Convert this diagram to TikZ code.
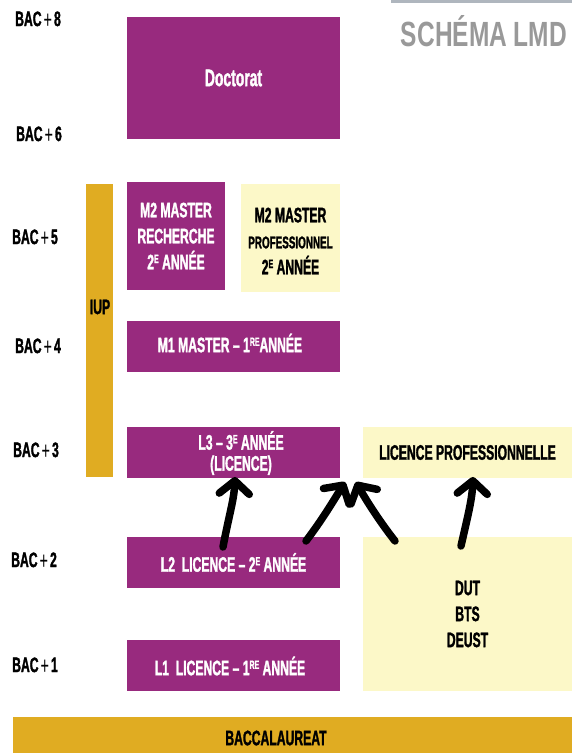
\documentclass[tikz,border=0pt]{standalone}
\usepackage{fontspec}
\setmainfont{Liberation Sans}[FakeStretch=0.58, BoldFeatures={FakeBold=1.4}]
\newfontfamily\titlefont{Liberation Sans}[FakeStretch=0.7]
\usetikzlibrary{arrows.meta,calc}
\definecolor{lmdpurple}{RGB}{152,42,126}
\definecolor{lmdcream}{RGB}{252,248,200}
\definecolor{lmdgold}{RGB}{224,172,34}
\definecolor{lmdgray}{RGB}{153,153,153}
\definecolor{lmdline}{RGB}{175,182,190}
\newcommand\expo[1]{\raisebox{0.3em}{\fontsize{12}{12}\selectfont #1}}
\newcommand\bacplus[1]{BAC\hspace{2pt}\raisebox{-2.5pt}{\fontsize{25}{26}\selectfont\mdseries +}\hspace{2pt}#1}
\begin{document}
\begin{tikzpicture}[x=1pt,y=-1pt,
  every node/.style={font=\fontsize{21}{26}\selectfont\bfseries, inner sep=0pt, align=center},
  pbox/.style={fill=lmdpurple, text=white},
  cbox/.style={fill=lmdcream, text=black},
  gbox/.style={fill=lmdgold, text=black},
  lvl/.style={anchor=west, text=black},
  harrow/.style={line width=7.5pt, line cap=round, -{Straight Barb[length=13pt,width=30pt,round]}}]
\useasboundingbox (0,0) rectangle (572,753);
% title
\fill[lmdline] (391,0) rectangle (572,3);
\node[text=lmdgray, font=\titlefont\fontsize{35}{35}\selectfont\bfseries] (title) at (484,31) {SCHÉMA LMD};
% level labels
\node[lvl] (b8) at (15,20) {\bacplus{8}};
\node[lvl] (b6) at (16,135) {\bacplus{6}};
\node[lvl] (b5) at (12,238) {\bacplus{5}};
\node[lvl] (b4) at (15,347) {\bacplus{4}};
\node[lvl] (b3) at (13,451) {\bacplus{3}};
\node[lvl] (b2) at (11,561) {\bacplus{2}};
\node[lvl] (b1) at (12,666) {\bacplus{1}};
% boxes
\node[pbox, minimum width=213, minimum height=122, font=\fontsize{24}{26}\selectfont\bfseries] (doc) at (233.5,78) {Doctorat};
\node[pbox, minimum width=98, minimum height=108] (m2r) at (176,236) {M2 MASTER\\RECHERCHE\\2\expo{E} ANNÉE};
\node[cbox, minimum width=99, minimum height=108] (m2p) at (290.5,238) {};
\node[text=black] (m2plabel) at (290.5,241) {M2 MASTER\\{\fontsize{17}{26}\selectfont PROFESSIONNEL}\\2\expo{E} ANNÉE};
\node[gbox, minimum width=27, minimum height=293] (iup) at (99.5,330.5) {};
\node[text=black] (iuplabel) at (100,307) {IUP};
\node[pbox, minimum width=213, minimum height=51] (m1) at (233.5,346.5) {};
\node[text=white] (m1label) at (230,343) {M1 MASTER – 1\expo{RE}ANNÉE};
\node[pbox, minimum width=213, minimum height=51] (l3) at (233.5,452.5) {};
\node[text=white, font=\fontsize{21}{21}\selectfont\bfseries] (l3label) at (241,453) {L3 – 3\expo{E}\ ANNÉE\\(LICENCE)};
\node[cbox, minimum width=209, minimum height=51] (lp) at (467.5,452.5) {LICENCE PROFESSIONNELLE};
\node[pbox, minimum width=213, minimum height=51] (l2) at (233.5,562.5) {L2\ \ LICENCE – 2\expo{E} ANNÉE};
\node[cbox, minimum width=209, minimum height=154] (dut) at (467.5,614) {DUT\\BTS\\DEUST};
\node[pbox, minimum width=213, minimum height=51] (l1) at (233.5,665.5) {};
\node[text=white] (l1label) at (230,666) {L1\ \ LICENCE – 1\expo{RE} ANNÉE};
\node[gbox, minimum width=559, minimum height=36] (bac) at (292.5,735) {};
\node[text=black] (baclabel) at (276,738) {BACCALAUREAT};
% arrow end points
\coordinate (a1s) at (223,547);
\coordinate (a1e) at (235,477);
\coordinate (a2s) at (306,541);
\coordinate (a2e) at (345,482);
\coordinate (a3s) at (395,541);
\coordinate (a3e) at (356,482);
\coordinate (a4s) at (461,546);
\coordinate (a4e) at (473,477);
% arrows
\draw[harrow] (a1s) .. controls (229,515) and (234,500) .. (a1e);
\draw[harrow] (a2s) .. controls (322,520) and (334,500) .. (a2e);
\draw[harrow] (a3s) .. controls (380,522) and (366,500) .. (a3e);
\draw[harrow] (a4s) .. controls (468,515) and (472,500) .. (a4e);
\end{tikzpicture}
\end{document}
